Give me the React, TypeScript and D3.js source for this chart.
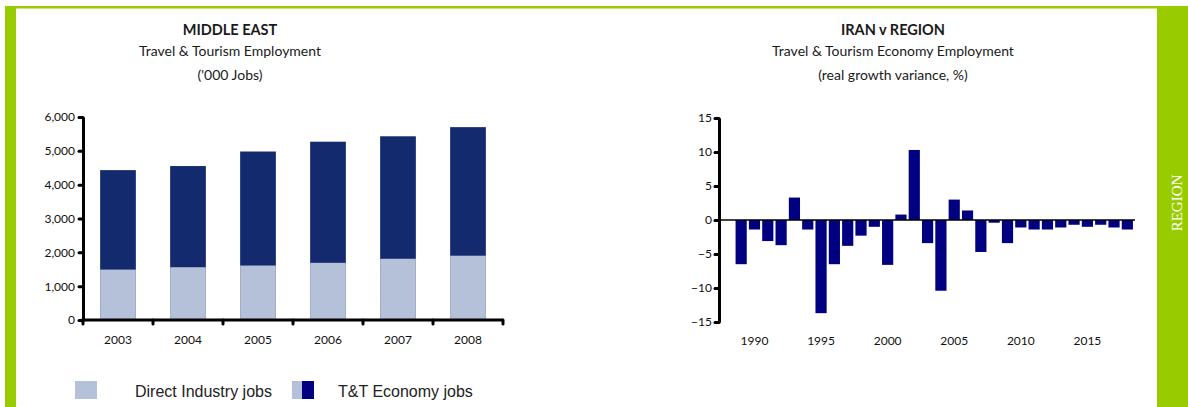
import { useRef, useEffect } from "react";
import * as d3 from "d3";

// Middle East T&T employment ('000 jobs)
const jobYears = ["2003", "2004", "2005", "2006", "2007", "2008"];
const directJobs = [1490, 1560, 1610, 1690, 1810, 1900];
const economyJobs = [4430, 4550, 4980, 5270, 5430, 5700];
const jobTicks = [0, 1000, 2000, 3000, 4000, 5000, 6000];

// Iran v region, real growth variance (%)
const varianceYears = [
  1989, 1990, 1991, 1992, 1993, 1994, 1995, 1996, 1997, 1998,
  1999, 2000, 2001, 2002, 2003, 2004, 2005, 2006, 2007, 2008,
  2009, 2010, 2011, 2012, 2013, 2014, 2015, 2016, 2017, 2018,
];
const varianceValues = [
  -6.5, -1.4, -3.1, -3.7, 3.3, -1.4, -13.7, -6.5, -3.8, -2.3,
  -1.0, -6.6, 0.8, 10.3, -3.4, -10.4, 3.0, 1.4, -4.7, -0.4,
  -3.4, -1.1, -1.4, -1.4, -1.1, -0.7, -1.0, -0.7, -1.1, -1.4,
];
const varianceTicks = [-15, -10, -5, 0, 5, 10, 15];
const varianceLabels = [1990, 1995, 2000, 2005, 2010, 2015];

const GREEN = "#99cc00";
const LIGHT = "#b4c1d9";
const DARK = "#142a6e";
const NAVY = "#000080";
const FONT = "Lato, 'Open Sans', sans-serif";

export default function App() {
  const svgRef = useRef<SVGSVGElement>(null);

  useEffect(() => {
    const svg = d3.select(svgRef.current);
    svg.selectAll("*").remove();

    // frame
    svg.append("rect").attr("width", 1188).attr("height", 407).attr("fill", "#fff");
    svg.append("rect").attr("x", 5).attr("y", 6).attr("width", 1183).attr("height", 2.5).attr("fill", GREEN);
    svg.append("rect").attr("x", 5).attr("y", 6).attr("width", 11).attr("height", 401).attr("fill", GREEN);
    svg.append("rect").attr("x", 1157).attr("y", 6).attr("width", 31).attr("height", 401).attr("fill", GREEN);
    svg.append("text")
      .attr("transform", "translate(1177,203) rotate(-90)")
      .attr("text-anchor", "middle")
      .attr("dominant-baseline", "central")
      .attr("font-family", "'Liberation Serif', 'DejaVu Serif', serif")
      .attr("font-size", 15)
      .attr("fill", "#fff")
      .text("REGION");

    // titles
    const titles = (cx: number, lines: string[]) => {
      const ys = [35, 56, 80];
      lines.forEach((t, i) => {
        svg.append("text")
          .attr("x", cx).attr("y", ys[i])
          .attr("text-anchor", "middle")
          .attr("font-family", FONT)
          .attr("font-size", i === 0 ? 14.5 : 14)
          .attr("font-weight", i === 0 ? 700 : 400)
          .attr("fill", "#1a1a1a")
          .text(t);
      });
    };
    titles(230, ["MIDDLE EAST", "Travel & Tourism Employment", "('000 Jobs)"]);
    titles(893, ["IRAN v REGION", "Travel & Tourism Economy Employment", "(real growth variance, %)"]);

    // ---- left chart
    const x = d3.scaleBand().domain(jobYears).range([83, 503]);
    const y = d3.scaleLinear().domain([0, 6000]).range([320, 117]);
    const barW = x.bandwidth() * 0.51;
    const barX = (d: string) => (x(d) as number) + (x.bandwidth() - barW) / 2;

    svg.append("g").selectAll("rect")
      .data(jobYears)
      .join("rect")
      .attr("x", d => barX(d))
      .attr("y", (d, i) => y(economyJobs[i]))
      .attr("width", barW)
      .attr("height", (d, i) => y(0) - y(economyJobs[i]))
      .attr("fill", DARK);

    svg.append("g").selectAll("rect")
      .data(jobYears)
      .join("rect")
      .attr("x", d => barX(d))
      .attr("y", (d, i) => y(directJobs[i]))
      .attr("width", barW)
      .attr("height", (d, i) => y(0) - y(directJobs[i]))
      .attr("fill", LIGHT);

    const styleAxis = (g: any) => {
      g.select(".domain").attr("stroke", "#000").attr("stroke-width", 3);
      g.selectAll(".tick line").attr("stroke", "#000").attr("stroke-width", 3).attr("stroke-linecap", "round");
      g.selectAll(".tick text").attr("font-family", FONT).attr("font-size", 12).attr("fill", "#111");
    };

    svg.append("g")
      .attr("transform", "translate(83,0)")
      .call(d3.axisLeft(y).tickValues(jobTicks).tickSize(4).tickSizeOuter(0).tickPadding(4).tickFormat(d3.format(",")) as any)
      .call(styleAxis);

    // x axis: line, boundary ticks, centred labels
    const xAxis = svg.append("g");
    xAxis.append("line")
      .attr("x1", 81.5).attr("x2", 503).attr("y1", y(0)).attr("y2", y(0))
      .attr("stroke", "#000").attr("stroke-width", 3);
    xAxis.selectAll("line.tk")
      .data([...jobYears.map(d => x(d) as number), 503])
      .join("line")
      .attr("class", "tk")
      .attr("x1", d => d).attr("x2", d => d)
      .attr("y1", y(0)).attr("y2", y(0) + 4)
      .attr("stroke", "#000").attr("stroke-width", 3).attr("stroke-linecap", "round");
    xAxis.selectAll("text")
      .data(jobYears)
      .join("text")
      .attr("x", d => (x(d) as number) + x.bandwidth() / 2)
      .attr("y", 344)
      .attr("text-anchor", "middle")
      .attr("font-family", FONT).attr("font-size", 12).attr("fill", "#111")
      .text(d => d);

    // legend
    const legend = svg.append("g").attr("font-family", "'Liberation Sans', Arial, sans-serif").attr("font-size", 16).attr("fill", "#222");
    legend.append("rect").attr("x", 75).attr("y", 381).attr("width", 22).attr("height", 18).attr("fill", LIGHT);
    legend.append("text").attr("x", 135).attr("y", 397).text("Direct Industry jobs");
    legend.append("rect").attr("x", 292).attr("y", 381).attr("width", 10).attr("height", 18).attr("fill", LIGHT);
    legend.append("rect").attr("x", 302).attr("y", 381).attr("width", 12).attr("height", 18).attr("fill", NAVY);
    legend.append("text").attr("x", 338).attr("y", 397).text("T&T Economy jobs");

    // ---- right chart
    const xv = d3.scaleBand<number>().domain(varianceYears).range([734.5, 1134]).paddingInner(0.16).paddingOuter(0.08);
    const yv = d3.scaleLinear().domain([-15, 15]).range([322, 118]);

    svg.append("g").selectAll("rect")
      .data(varianceValues)
      .join("rect")
      .attr("x", (d, i) => xv(varianceYears[i]) as number)
      .attr("y", d => yv(Math.max(0, d)))
      .attr("width", xv.bandwidth())
      .attr("height", d => Math.abs(yv(d) - yv(0)))
      .attr("fill", NAVY);

    svg.append("line")
      .attr("x1", 719).attr("x2", 1135).attr("y1", yv(0)).attr("y2", yv(0))
      .attr("stroke", "#000").attr("stroke-width", 1.5);

    svg.append("g")
      .attr("transform", "translate(719,0)")
      .call(d3.axisLeft(yv).tickValues(varianceTicks).tickSize(4).tickSizeOuter(0).tickPadding(3).tickFormat(d3.format("d")) as any)
      .call(styleAxis);

    svg.append("g").selectAll("text")
      .data(varianceLabels)
      .join("text")
      .attr("x", d => (xv(d) as number) + xv.bandwidth() / 2)
      .attr("y", 345)
      .attr("text-anchor", "middle")
      .attr("font-family", FONT).attr("font-size", 12).attr("fill", "#111")
      .text(d => d);
  }, []);

  return (
    <svg
      ref={svgRef}
      width={1188}
      height={407}
      style={{ position: "absolute", left: 0, top: 0 }}
    ></svg>
  );
}
